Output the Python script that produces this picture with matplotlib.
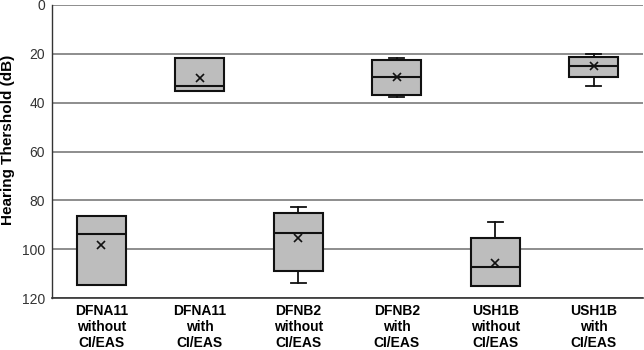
import matplotlib
matplotlib.use('Agg')
import matplotlib.pyplot as plt

plt.rcParams['font.family'] = ['Liberation Sans', 'DejaVu Sans']

groups = ['DFNA11\nwithout\nCI/EAS', 'DFNA11\nwith\nCI/EAS',
          'DFNB2\nwithout\nCI/EAS', 'DFNB2\nwith\nCI/EAS',
          'USH1B\nwithout\nCI/EAS', 'USH1B\nwith\nCI/EAS']
whislo = [86.5, 21.7, 82.8, 21.7, 88.9, 20.2]
q1 = [86.5, 21.7, 85.1, 22.7, 95.6, 21.3]
med = [93.9, 33.0, 93.4, 29.5, 107.5, 25.1]
q3 = [114.8, 35.2, 109.0, 37.0, 114.9, 29.6]
whishi = [114.8, 35.2, 113.8, 37.8, 114.9, 33.0]
means = [98.4, 30.0, 95.5, 29.5, 105.6, 25.1]

stats = []
for i in range(len(groups)):
    stats.append(dict(whislo=whislo[i], q1=q1[i], med=med[i], q3=q3[i],
                      whishi=whishi[i], mean=means[i], label=groups[i]))

fig = plt.figure(figsize=(6.44, 3.5), dpi=100)
ax = fig.add_axes([52 / 644, 1 - 298 / 350, 591 / 644, 293 / 350])

ax.bxp(stats, positions=range(len(groups)), widths=0.5, capwidths=0.15,
       patch_artist=True, showmeans=True, showfliers=False,
       boxprops=dict(facecolor='#bdbdbd', edgecolor='#111111', linewidth=1.5),
       medianprops=dict(color='#111111', linewidth=1.5),
       whiskerprops=dict(color='#111111', linewidth=1.3),
       capprops=dict(color='#111111', linewidth=1.3),
       meanprops=dict(marker='x', markeredgecolor='#111111', markersize=6,
                      markeredgewidth=1.2))

ax.set_xlim(-0.5, len(groups) - 0.5)
ax.set_ylim(120, 0)
ax.set_yticks([0, 20, 40, 60, 80, 100, 120])
ax.yaxis.grid(True, color='#7a7a7a', linewidth=1.2)
ax.set_axisbelow(True)

for s in ['top', 'right']:
    ax.spines[s].set_visible(False)
ax.spines['left'].set_color('#333333')
ax.spines['bottom'].set_color('#333333')
ax.spines['left'].set_linewidth(1.0)
ax.spines['bottom'].set_linewidth(1.2)

ax.tick_params(axis='both', length=0)
ax.tick_params(axis='y', labelsize=10, labelcolor='#333333', pad=5)
ax.set_xticklabels(groups, fontsize=10, fontweight='bold', linespacing=1.2)
ax.tick_params(axis='x', pad=4)

ax.set_ylabel('Hearing Thershold (dB)', fontsize=11, fontweight='bold')
ax.yaxis.set_label_coords(-0.063, 0.54)

fig.savefig('out.png', dpi=100)
